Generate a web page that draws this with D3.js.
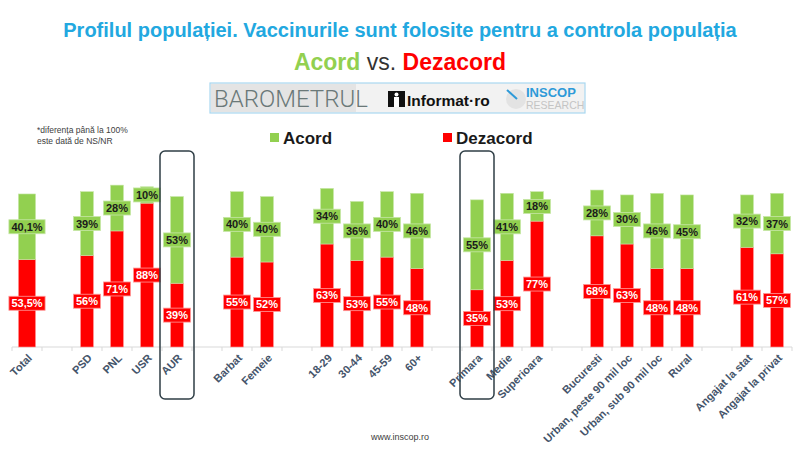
<!DOCTYPE html>
<html>
<head>
<meta charset="utf-8">
<script src="https://cdn.jsdelivr.net/npm/d3@7"></script>
<style>
  body { margin: 0; background: #fff; }
  svg { display: block; font-family: "Liberation Sans", Arial, sans-serif; }
</style>
</head>
<body>
<div id="chart"></div>
<script>
// slots along the axis, "" = empty gap between groups
const slots = ["Total", "", "PSD", "PNL", "USR", "AUR", "", "Barbat", "Femeie", "",
  "18-29", "30-44", "45-59", "60+", "", "Primara", "Medie", "Superioara", "",
  "Bucuresti", "Urban, peste 90 mil loc", "Urban, sub 90 mil loc", "Rural", "",
  "Angajat la stat", "Angajat la privat"];
const categories = slots.filter(d => d !== "");
const acord = [40.1, 39, 28, 10, 53, 40, 40, 34, 36, 40, 46, 55, 41, 18, 28, 30, 46, 45, 32, 37];
const dezacord = [53.5, 56, 71, 88, 39, 55, 52, 63, 53, 55, 48, 35, 53, 77, 68, 63, 48, 48, 61, 57];
const highlighted = ["AUR", "Primara"];

const fmt = v => (Number.isInteger(v) ? v : v.toString().replace(".", ",")) + "%";

let data = categories.map((c, i) => ({ cat: c, slot: slots.indexOf(c), acord: acord[i], dezacord: dezacord[i] }));

let width = 800, height = 450;
let svg = d3.select("#chart").append("svg")
  .attr("width", width)
  .attr("height", height);

const green = "#92D050", red = "#FF0000";

// titles
svg.append("text")
  .attr("x", 400).attr("y", 37)
  .attr("text-anchor", "middle")
  .style("font-family", "'Liberation Sans Narrow', 'Arial Narrow', 'Liberation Sans', sans-serif")
  .style("font-weight", "bold")
  .style("font-size", "20px")
  .attr("fill", "#22A8E0")
  .text("Profilul populației. Vaccinurile sunt folosite pentru a controla populația");

let sub = svg.append("text")
  .attr("x", 400).attr("y", 70)
  .attr("text-anchor", "middle")
  .style("font-family", "'Liberation Sans Narrow', 'Arial Narrow', 'Liberation Sans', sans-serif")
  .style("font-size", "23px");
sub.append("tspan").attr("fill", green).style("font-weight", "bold").text("Acord");
sub.append("tspan").attr("fill", "#333").text(" vs. ");
sub.append("tspan").attr("fill", red).style("font-weight", "bold").text("Dezacord");

// logo strip
let logo = svg.append("g");
logo.append("rect").attr("x", 210).attr("y", 83).attr("width", 375).attr("height", 30)
  .attr("fill", "#f2f2f2").attr("stroke", "#a9d8f0").attr("stroke-width", 1.2);
logo.append("rect").attr("x", 211).attr("y", 84).attr("width", 145).attr("height", 28).attr("fill", "#e4e4e4");
logo.append("text").attr("x", 214).attr("y", 107)
  .style("font-family", "Roboto, Lato, sans-serif").style("font-weight", 300)
  .style("font-size", "24px").attr("fill", "#6a7878").text("BAROMETRUL");
logo.append("rect").attr("x", 388).attr("y", 91).attr("width", 17).attr("height", 16).attr("fill", "#111");
logo.append("rect").attr("x", 394).attr("y", 97).attr("width", 5).attr("height", 10).attr("fill", "#fff");
logo.append("circle").attr("cx", 396.5).attr("cy", 94.5).attr("r", 2).attr("fill", "#fff");
logo.append("text").attr("x", 407).attr("y", 106)
  .style("font-weight", "bold").style("font-size", "15.5px").attr("fill", "#111").text("Informat·ro");
logo.append("circle").attr("cx", 516).attr("cy", 99).attr("r", 10).attr("fill", "#e3e3e3");
logo.append("line").attr("x1", 507).attr("y1", 90).attr("x2", 517).attr("y2", 99)
  .attr("stroke", "#2e9ad8").attr("stroke-width", 2);
logo.append("text").attr("x", 526).attr("y", 97)
  .style("font-weight", "bold").style("font-size", "13px").attr("fill", "#2e9ad8").text("INSCOP");
logo.append("text").attr("x", 526).attr("y", 109)
  .style("font-size", "10.5px").attr("fill", "#c4c4c4").text("RESEARCH");

// footnote
svg.append("text").attr("x", 37).attr("y", 133)
  .style("font-size", "8.5px").attr("fill", "#404040").text("*diferența până la 100%");
svg.append("text").attr("x", 37).attr("y", 144)
  .style("font-size", "8.5px").attr("fill", "#404040").text("este dată de NS/NR");

// legend
let legend = svg.append("g");
[["Acord", green, 270], ["Dezacord", red, 443]].forEach(([name, col, lx]) => {
  legend.append("rect").attr("x", lx).attr("y", 133).attr("width", 9).attr("height", 9).attr("fill", col);
  legend.append("text").attr("x", lx + 13).attr("y", 143.5)
    .style("font-weight", "bold").style("font-size", "17px").attr("fill", "#1a1a1a").text(name);
});

// scales
let x = d3.scaleBand().domain(d3.range(slots.length)).range([12, 792]).padding(0);
let y = d3.scaleLinear().domain([0, 100]).range([347, 183.5]);
const bw = d => (d.cat === "Total" ? x.bandwidth() * 0.57 : x.bandwidth() * 0.43);
const cx = d => x(d.slot) + x.bandwidth() / 2;

// axis
let axis = svg.append("g");
axis.append("line").attr("x1", x(0)).attr("x2", x(slots.length - 1) + x.bandwidth())
  .attr("y1", y(0)).attr("y2", y(0)).attr("stroke", "#d9d9d9");
axis.selectAll(".tick").data(d3.range(slots.length + 1)).join("line")
  .attr("x1", i => x(0) + i * x.bandwidth()).attr("x2", i => x(0) + i * x.bandwidth())
  .attr("y1", y(0)).attr("y2", y(0) + 4).attr("stroke", "#d9d9d9");

// bars
let bars = svg.append("g");
bars.selectAll(".red").data(data).join("rect")
  .attr("x", d => cx(d) - bw(d) / 2).attr("width", d => bw(d))
  .attr("y", d => y(d.dezacord)).attr("height", d => y(0) - y(d.dezacord))
  .attr("fill", red).attr("stroke", "#ff9a9a").attr("stroke-width", 0.6);
bars.selectAll(".green").data(data).join("rect")
  .attr("x", d => cx(d) - bw(d) / 2).attr("width", d => bw(d))
  .attr("y", d => y(d.dezacord + d.acord)).attr("height", d => y(d.dezacord) - y(d.dezacord + d.acord))
  .attr("fill", green).attr("stroke", "#c6e6a6").attr("stroke-width", 0.6);

// value labels in boxes
function boxLabel(g, px, py, txt, fill, stroke, color) {
  let lg = g.append("g");
  let r = lg.append("rect");
  let t = lg.append("text").attr("x", px).attr("y", py + 4)
    .attr("text-anchor", "middle")
    .style("font-weight", "bold").style("font-size", "11px").attr("fill", color).text(txt);
  let w = t.node().getComputedTextLength() + 5;
  r.attr("x", px - w / 2).attr("y", py - 7).attr("width", w).attr("height", 14)
    .attr("fill", fill).attr("stroke", stroke).attr("stroke-width", 0.8);
}
let labels = svg.append("g");
data.forEach(d => {
  boxLabel(labels, cx(d), (y(0) + y(d.dezacord)) / 2, fmt(d.dezacord), red, "#ff9a9a", "#fff");
  boxLabel(labels, cx(d), (y(d.dezacord) + y(d.dezacord + d.acord)) / 2, fmt(d.acord), green, "#c6e6a6", "#1a1a1a");
});

// category labels
svg.append("g").selectAll("text").data(data).join("text")
  .attr("transform", d => `translate(${cx(d) + 3},${y(0) + 9}) rotate(-45)`)
  .attr("text-anchor", "end")
  .attr("dy", "0.35em")
  .style("font-weight", "bold").style("font-size", "11px").attr("fill", "#44546A")
  .text(d => d.cat);

// highlight frames
svg.append("g").selectAll("rect").data(data.filter(d => highlighted.includes(d.cat))).join("rect")
  .attr("x", d => x(d.slot) - 2).attr("width", x.bandwidth() + 4)
  .attr("y", 151).attr("height", 248).attr("rx", 5)
  .attr("fill", "none").attr("stroke", "#2F3E46").attr("stroke-width", 1.5);

// footer
svg.append("text").attr("x", 400).attr("y", 440).attr("text-anchor", "middle")
  .style("font-size", "9px").attr("fill", "#404040").text("www.inscop.ro");
</script>
</body>
</html>
